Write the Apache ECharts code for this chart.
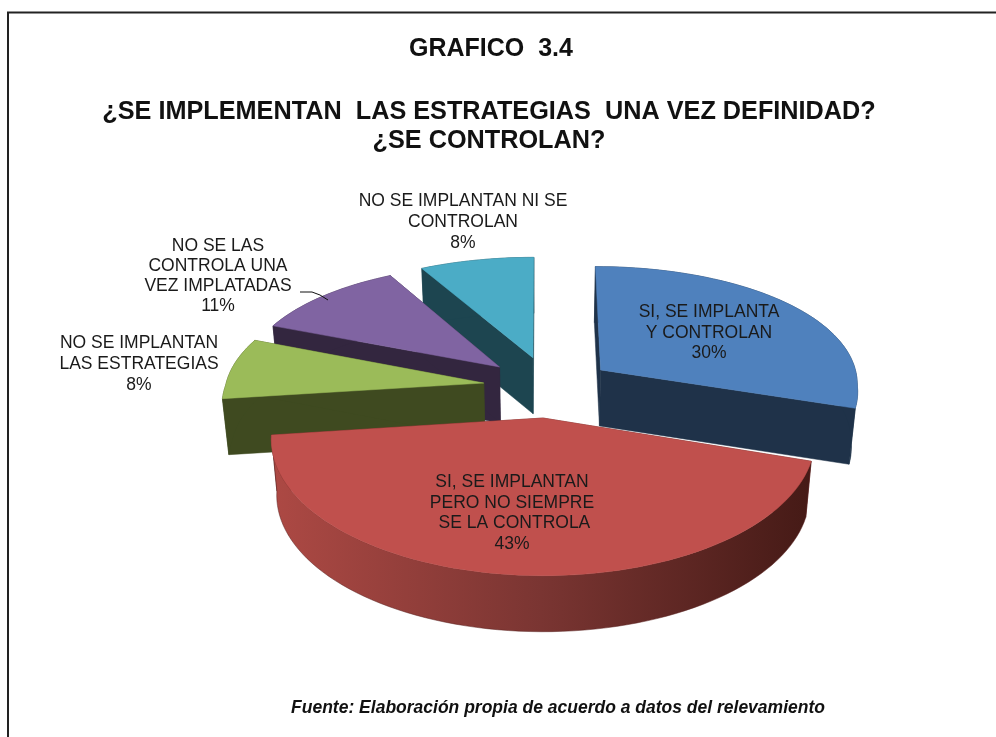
<!DOCTYPE html>
<html><head><meta charset="utf-8">
<style>html,body{margin:0;padding:0;background:#fff}#c{width:996px;height:737px}</style>
<script src="https://cdn.jsdelivr.net/npm/echarts@6/dist/echarts.min.js"></script>
</head><body><div id="c"></div>
<script>
// ---- data ----
const categories = [
  "SI, SE IMPLANTA\nY CONTROLAN",
  "SI, SE IMPLANTAN\nPERO NO SIEMPRE\n SE LA CONTROLA",
  "NO SE IMPLANTAN\nLAS ESTRATEGIAS",
  "NO SE LAS\nCONTROLA UNA\nVEZ IMPLATADAS",
  "NO SE IMPLANTAN NI SE\nCONTROLAN"
];
const values = [30, 43, 8, 11, 8];
const titleText = "GRAFICO  3.4";
const questionText = "¿SE IMPLEMENTAN  LAS ESTRATEGIAS  UNA VEZ DEFINIDAD?\n¿SE CONTROLAN?";
const sourceText = "Fuente: Elaboración propia de acuerdo a datos del relevamiento";

// ---- look ----
const topColors  = ["#4F81BD", "#C0504D", "#9BBB59", "#8064A2", "#4BACC6"];
const wallColors = ["#1F3249", "#5A2220", "#3F4A20", "#33263F", "#1D4550"];
const paintOrder = [3, 5, 4, 2, 1];
const explodeU = [0.226, 0, -0.23, -0.171, -0.04];
const explodeV = [0.125, -0.258, 0.016, 0.15, 0.229];
const labelCentres = [[709, 333], [512, 513], [139, 364], [218, 276], [463, 222]];
const lineHeights = [20.5, 20.5, 21, 20, 21];
const FONT = '"Liberation Sans", Arial, sans-serif';

const view = {cx: 543, cy: 385, rx: 258, ry: 123, k: 0.15, kBackX: 0.1, depth: 56, shrink: 0.98, startDeg: 0};

function project(u, v, low) {
  const s = 1 / (1 + view.k * v);
  const sx = v > 0 ? 1 / (1 + view.kBackX * v) : s;
  return [
    view.cx + view.rx * u * sx * (low ? view.shrink : 1),
    view.cy - view.ry * v * s + (low ? view.depth : 0)
  ];
}

const total = values.reduce((a, b) => a + b, 0);
function startAngle(i) {
  let acc = 0;
  for (let j = 0; j < i; j++) acc += values[j];
  return view.startDeg + acc / total * 360;
}

function renderSlice(params, api) {
  const i = params.dataIndex;
  const val = api.value(0);
  const a0 = startAngle(i), a1 = a0 + val / total * 360;
  const ou = explodeU[i], ov = explodeV[i];
  const arc = [];
  const n = Math.max(8, Math.round((a1 - a0) / 2));
  for (let t = 0; t <= n; t++) {
    const a = (a0 + (a1 - a0) * t / n) * Math.PI / 180;
    arc.push([ou + Math.sin(a), ov + Math.cos(a)]);
  }
  const topArc = arc.map(p => project(p[0], p[1], false));
  const lowArc = arc.map(p => project(p[0], p[1], true));
  const tipT = project(ou, ov, false), tipL = project(ou, ov, true);
  const z = paintOrder[i] * 10;
  const wall = wallColors[i];
  const poly = (pts, fill, dz) => ({
    type: 'polygon', z2: z + dz, silent: true,
    shape: {points: pts},
    style: {fill: fill, stroke: typeof fill === 'string' ? fill : wall, lineWidth: 0.5}
  });
  const outerFill = i === 1
    ? {type: 'linear', x: 0, y: 0, x2: 1, y2: 0, colorStops: [
        {offset: 0, color: '#AD4944'}, {offset: 0.5, color: '#7A3532'}, {offset: 1, color: '#451A16'}]}
    : wall;
  const children = [
    poly([tipT, topArc[0], lowArc[0], tipL], wall, 0),
    poly([tipT, topArc[n], lowArc[n], tipL], wall, 1),
    poly(topArc.concat(lowArc.slice().reverse()), outerFill, 2),
    poly([tipT].concat(topArc), topColors[i], 3),
    {
      type: 'text', z2: 500, silent: true,
      style: {
        x: labelCentres[i][0], y: labelCentres[i][1],
        text: categories[i] + "\n" + val + "%",
        align: 'center', verticalAlign: 'middle',
        fontFamily: FONT, fontSize: 17.5,
        lineHeight: lineHeights[i], fill: '#1a1a1a'
      }
    }
  ];
  if (i === 3) {
    children.push({
      type: 'polyline', z2: 500, silent: true,
      shape: {points: [[300, 292], [312, 292], [320, 295], [328, 300]]},
      style: {stroke: '#111', lineWidth: 1, fill: 'none'}
    });
  }
  return {type: 'group', children: children};
}

const chart = echarts.init(document.getElementById('c'), null, {renderer: 'canvas'});
chart.setOption({
  animation: false,
  backgroundColor: '#fff',
  title: [
    {text: titleText, left: 486, top: 32, textAlign: 'center',
     textStyle: {fontFamily: FONT, fontSize: 25, fontWeight: 'bold', color: '#111'}},
    {text: questionText, left: 484, top: 93, textAlign: 'center',
     textStyle: {fontFamily: FONT, fontSize: 25.25, fontWeight: 'bold', color: '#111', lineHeight: 29}},
    {text: sourceText, left: 553, top: 694, textAlign: 'center',
     textStyle: {fontFamily: FONT, fontSize: 17.5, fontWeight: 'bold', fontStyle: 'italic', color: '#111'}}
  ],
  graphic: [
    {type: 'polyline', silent: true, shape: {points: [[8, 737], [8, 12.5], [996, 12.5]]},
     style: {stroke: '#222', lineWidth: 2, fill: 'none'}}
  ],
  series: [{
    type: 'custom',
    coordinateSystem: 'none',
    renderItem: renderSlice,
    data: values.map(v => [v]),
    silent: true
  }]
});
</script></body></html>
